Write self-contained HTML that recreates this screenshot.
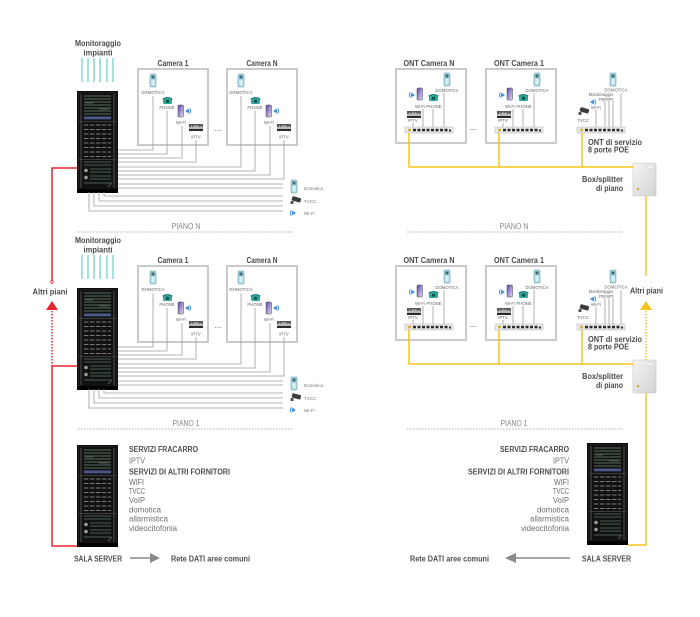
<!DOCTYPE html>
<html><head><meta charset="utf-8"><style>
html,body{margin:0;padding:0;background:#fff;}
svg{display:block;}
.tb{font-family:"Liberation Sans",sans-serif;font-weight:bold;font-size:8.5px;fill:#4a4a4a;}
.s{font-family:"Liberation Sans",sans-serif;font-size:4.3px;fill:#666;text-anchor:middle;}
.s2{font-family:"Liberation Sans",sans-serif;font-size:4.5px;fill:#777;}
.p{font-family:"Liberation Sans",sans-serif;font-size:8px;fill:#888;text-anchor:middle;}
.b{font-family:"Liberation Sans",sans-serif;font-size:8px;fill:#6e6e6e;}
.bb{font-family:"Liberation Sans",sans-serif;font-weight:bold;font-size:8px;fill:#4e4e4e;}
.dots{font-family:"Liberation Sans",sans-serif;font-size:8px;fill:#555;text-anchor:middle;}
</style></head><body>
<svg width="700" height="617" viewBox="0 0 700 617" xmlns="http://www.w3.org/2000/svg">
<defs>
<linearGradient id="pg" x1="0" y1="0" x2="1" y2="1"><stop offset="0" stop-color="#5e44a8"/><stop offset="1" stop-color="#e4dbf6"/></linearGradient>
<linearGradient id="bgr" x1="0" y1="0" x2="1" y2="1"><stop offset="0" stop-color="#f4f4f4"/><stop offset="1" stop-color="#d2d2d2"/></linearGradient>
<g id="rack">
<rect x="0" y="0" width="41" height="102" fill="#0c0c0c"/>
<rect x="1.5" y="1.5" width="38" height="97" fill="#121212" stroke="#2e2e2e" stroke-width="0.5"/>
<line x1="4" y1="3" x2="4" y2="97" stroke="#6a6a6a" stroke-width="0.7"/>
<line x1="37" y1="3" x2="37" y2="97" stroke="#6a6a6a" stroke-width="0.7"/>
<g stroke="#3c4f42" stroke-width="1.6">
<line x1="7" y1="5" x2="34" y2="5"/><line x1="7" y1="8" x2="34" y2="8"/><line x1="7" y1="11" x2="34" y2="11"/><line x1="7" y1="14" x2="34" y2="14"/><line x1="7" y1="17" x2="34" y2="17"/><line x1="7" y1="20" x2="34" y2="20"/><line x1="7" y1="23" x2="34" y2="23"/>
</g>
<g stroke="#8f8f8f" stroke-width="0.5"><line x1="22" y1="18" x2="32" y2="18"/><line x1="8" y1="12" x2="16" y2="12"/></g>
<rect x="7" y="25.5" width="27" height="2.8" fill="#4a5888"/>
<line x1="2" y1="30.5" x2="39" y2="30.5" stroke="#4a4a4a" stroke-width="0.8"/>
<g stroke="#9a9a9a" stroke-width="0.8" stroke-dasharray="4.5 1.5">
<line x1="7" y1="34" x2="34" y2="34"/><line x1="7" y1="38.5" x2="34" y2="38.5"/><line x1="7" y1="43" x2="34" y2="43"/><line x1="7" y1="47.5" x2="34" y2="47.5"/><line x1="7" y1="52" x2="34" y2="52"/><line x1="7" y1="56.5" x2="34" y2="56.5"/><line x1="7" y1="61" x2="34" y2="61"/><line x1="7" y1="65.5" x2="34" y2="65.5"/>
</g>
<line x1="2" y1="68.5" x2="39" y2="68.5" stroke="#4a4a4a" stroke-width="0.8"/>
<g stroke="#3c4f42" stroke-width="1.3">
<line x1="7" y1="71" x2="34" y2="71"/><line x1="7" y1="74" x2="34" y2="74"/>
<line x1="13" y1="78" x2="34" y2="78"/><line x1="13" y1="81" x2="34" y2="81"/><line x1="13" y1="85" x2="34" y2="85"/><line x1="13" y1="88" x2="34" y2="88"/><line x1="7" y1="92" x2="34" y2="92"/>
</g>
<circle cx="9" cy="79.5" r="1.8" fill="#9a9a9a"/>
<circle cx="9" cy="86.5" r="1.8" fill="#9a9a9a"/>
<line x1="31" y1="96" x2="35" y2="92" stroke="#777" stroke-width="0.6"/>
<rect x="0" y="98" width="41" height="4" fill="#000"/>
</g>
<g id="dom"><rect x="0" y="0" width="6" height="13" rx="1" fill="#a9d8e4" stroke="#5f8f9a" stroke-width="0.5"/><rect x="1.5" y="1.5" width="3" height="3" fill="#3b6a74"/><rect x="1.3" y="6" width="3.4" height="5.5" fill="#d6f0f5"/></g>
<g id="phone"><rect x="1" y="2.5" width="9" height="5.5" rx="1.5" fill="#2ea79d"/><path d="M0 3 Q5.5 -1 11 3 L9.5 3.6 Q5.5 1 1.5 3.6Z" fill="#1d8178"/><circle cx="5.5" cy="5.2" r="1.6" fill="#0f4f49"/></g>
<g id="mob"><rect x="0" y="0" width="5.5" height="12" rx="1" fill="url(#pg)" stroke="#444" stroke-width="0.5"/></g>
<g id="wf"><path d="M0 3 L3.5 0.8 A4 4 0 0 1 3.5 5.2Z" fill="#3d8fe0"/><path d="M4.6 0.2 A5 5 0 0 1 4.6 5.8" fill="none" stroke="#3d8fe0" stroke-width="0.9"/></g>
<g id="wfl"><path d="M6 3 L2.5 0.8 A4 4 0 0 0 2.5 5.2Z" fill="#3d8fe0"/><path d="M1.4 0.2 A5 5 0 0 0 1.4 5.8" fill="none" stroke="#3d8fe0" stroke-width="0.9"/></g>
<g id="tv"><rect x="0" y="0" width="14" height="7" fill="#5a5a5a"/><path d="M0 5 L0 3 L2 3 L2 1.5 L3 1.5 L3 3 L5 2 L6 0.5 L7 2.5 L9 1 L10 3 L12 2 L14 3.5 L14 5Z" fill="#b8b8b8"/><rect x="0" y="5" width="14" height="2" fill="#2a2a2a"/></g>
<g id="cam"><rect x="2" y="0" width="9" height="4.5" rx="1" fill="#3c3c3c" transform="rotate(15 6 2)"/><rect x="0.5" y="4" width="3" height="3" fill="#555"/></g>
<g id="sw"><rect x="0" y="0" width="48" height="6" fill="#e8e8e8" stroke="#b5b5b5" stroke-width="0.5"/>
<rect x="3" y="1.8" width="3" height="2.5" fill="#c9b24a"/>
<g fill="#2b2b2b"><rect x="8" y="1.8" width="3" height="2.5"/><rect x="12.5" y="1.8" width="3" height="2.5"/><rect x="17" y="1.8" width="3" height="2.5"/><rect x="21.5" y="1.8" width="3" height="2.5"/><rect x="26" y="1.8" width="3" height="2.5"/><rect x="30.5" y="1.8" width="3" height="2.5"/><rect x="35" y="1.8" width="3" height="2.5"/><rect x="39.5" y="1.8" width="3" height="2.5"/><rect x="44" y="2.5" width="2" height="2"/></g></g>
<g id="bx"><rect x="0" y="0" width="23" height="33" rx="1" fill="url(#bgr)" stroke="#c4c4c4" stroke-width="0.6"/><rect x="15" y="3" width="5" height="2" fill="#fff" stroke="#bbb" stroke-width="0.3"/><path d="M3.5 27 L5 24.5 L6.5 27Z" fill="#c9a100"/></g>
</defs>

<!-- ============ LEFT FLOOR N ============ -->
<g>
<text class="tb" x="98" y="46" text-anchor="middle" textLength="46" lengthAdjust="spacingAndGlyphs">Monitoraggio</text>
<text class="tb" x="98" y="55.5" text-anchor="middle" textLength="29" lengthAdjust="spacingAndGlyphs">impianti</text>
<g stroke="#72d2ca" stroke-width="1.3"><line x1="82" y1="58" x2="82" y2="82"/><line x1="88" y1="58" x2="88" y2="82"/><line x1="94" y1="58" x2="94" y2="82"/><line x1="100" y1="58" x2="100" y2="82"/><line x1="107" y1="58" x2="107" y2="82"/><line x1="113" y1="58" x2="113" y2="82"/></g>
<use href="#rack" x="77" y="91"/>
<rect x="138" y="69" width="70" height="76" fill="#fff" stroke="#cacaca" stroke-width="2"/>
<rect x="227" y="69" width="70" height="76" fill="#fff" stroke="#cacaca" stroke-width="2"/>
<text class="tb" x="173" y="66" text-anchor="middle" textLength="31" lengthAdjust="spacingAndGlyphs">Camera 1</text>
<text class="tb" x="262" y="66" text-anchor="middle" textLength="31" lengthAdjust="spacingAndGlyphs">Camera N</text>
<text class="dots" x="218" y="131">...</text>
<use href="#dom" x="150" y="74"/><text class="s" x="153" y="94">DOMOTICA</text>
<use href="#phone" x="162" y="96"/><text class="s" x="167" y="109">PHONE</text>
<use href="#mob" x="178" y="105"/><use href="#wf" x="185" y="108"/><text class="s" x="181" y="124">Wi-Fi</text>
<use href="#tv" x="189" y="124"/><text class="s" x="196" y="138.5">IPTV</text>
<use href="#dom" x="238" y="74"/><text class="s" x="241" y="94">DOMOTICA</text>
<use href="#phone" x="250" y="96"/><text class="s" x="255" y="109">PHONE</text>
<use href="#mob" x="266" y="105"/><use href="#wf" x="273" y="108"/><text class="s" x="269" y="124">Wi-Fi</text>
<use href="#tv" x="277" y="124"/><text class="s" x="284" y="138.5">IPTV</text>
<g fill="none" stroke="#9c9c9c" stroke-width="0.8">
<polyline points="118,150 153,150 153,96"/><polyline points="118,154 167,154 167,111"/><polyline points="118,158 182,158 182,126"/><polyline points="118,162 196,162 196,140"/>
<polyline points="118,167 241,167 241,96"/><polyline points="118,171 255,171 255,111"/><polyline points="118,175 270,175 270,126"/><polyline points="118,179 284,179 284,140"/>
<polyline points="118,184 283,184"/><polyline points="118,188 283,188"/>
<polyline points="104,192 104,196 283,196"/><polyline points="99,192 99,201 283,201"/><polyline points="94,192 94,206 283,206"/><polyline points="89,192 89,211 283,211"/>
</g>
<use href="#dom" x="291" y="180"/><text class="s2" x="304" y="190">Domotica</text>
<use href="#cam" x="290" y="197"/><text class="s2" x="304" y="203">TVCC</text>
<use href="#wfl" x="290" y="210"/><text class="s2" x="304" y="215">Wi-Fi</text>
<text class="p" x="186" y="229" textLength="29" lengthAdjust="spacingAndGlyphs">PIANO N</text>
<line x1="78" y1="232" x2="293" y2="232" stroke="#999" stroke-width="0.8" stroke-dasharray="1.5 1.5"/>
</g>

<!-- ============ LEFT FLOOR 1 ============ -->
<g transform="translate(0,197)">
<text class="tb" x="98" y="46" text-anchor="middle" textLength="46" lengthAdjust="spacingAndGlyphs">Monitoraggio</text>
<text class="tb" x="98" y="55.5" text-anchor="middle" textLength="29" lengthAdjust="spacingAndGlyphs">impianti</text>
<g stroke="#72d2ca" stroke-width="1.3"><line x1="82" y1="58" x2="82" y2="82"/><line x1="88" y1="58" x2="88" y2="82"/><line x1="94" y1="58" x2="94" y2="82"/><line x1="100" y1="58" x2="100" y2="82"/><line x1="107" y1="58" x2="107" y2="82"/><line x1="113" y1="58" x2="113" y2="82"/></g>
<use href="#rack" x="77" y="91"/>
<rect x="138" y="69" width="70" height="76" fill="#fff" stroke="#cacaca" stroke-width="2"/>
<rect x="227" y="69" width="70" height="76" fill="#fff" stroke="#cacaca" stroke-width="2"/>
<text class="tb" x="173" y="66" text-anchor="middle" textLength="31" lengthAdjust="spacingAndGlyphs">Camera 1</text>
<text class="tb" x="262" y="66" text-anchor="middle" textLength="31" lengthAdjust="spacingAndGlyphs">Camera N</text>
<text class="dots" x="218" y="131">...</text>
<use href="#dom" x="150" y="74"/><text class="s" x="153" y="94">DOMOTICA</text>
<use href="#phone" x="162" y="96"/><text class="s" x="167" y="109">PHONE</text>
<use href="#mob" x="178" y="105"/><use href="#wf" x="185" y="108"/><text class="s" x="181" y="124">Wi-Fi</text>
<use href="#tv" x="189" y="124"/><text class="s" x="196" y="138.5">IPTV</text>
<use href="#dom" x="238" y="74"/><text class="s" x="241" y="94">DOMOTICA</text>
<use href="#phone" x="250" y="96"/><text class="s" x="255" y="109">PHONE</text>
<use href="#mob" x="266" y="105"/><use href="#wf" x="273" y="108"/><text class="s" x="269" y="124">Wi-Fi</text>
<use href="#tv" x="277" y="124"/><text class="s" x="284" y="138.5">IPTV</text>
<g fill="none" stroke="#9c9c9c" stroke-width="0.8">
<polyline points="118,150 153,150 153,96"/><polyline points="118,154 167,154 167,111"/><polyline points="118,158 182,158 182,126"/><polyline points="118,162 196,162 196,140"/>
<polyline points="118,167 241,167 241,96"/><polyline points="118,171 255,171 255,111"/><polyline points="118,175 270,175 270,126"/><polyline points="118,179 284,179 284,140"/>
<polyline points="118,184 283,184"/><polyline points="118,188 283,188"/>
<polyline points="104,192 104,196 283,196"/><polyline points="99,192 99,201 283,201"/><polyline points="94,192 94,206 283,206"/><polyline points="89,192 89,211 283,211"/>
</g>
<use href="#dom" x="291" y="180"/><text class="s2" x="304" y="190">Domotica</text>
<use href="#cam" x="290" y="197"/><text class="s2" x="304" y="203">TVCC</text>
<use href="#wfl" x="290" y="210"/><text class="s2" x="304" y="215">Wi-Fi</text>
<text class="p" x="186" y="229" textLength="27" lengthAdjust="spacingAndGlyphs">PIANO 1</text>
<line x1="78" y1="232" x2="293" y2="232" stroke="#999" stroke-width="0.8" stroke-dasharray="1.5 1.5"/>
</g>

<!-- ============ RIGHT FLOOR N ============ -->
<g>
<rect x="396" y="69" width="70" height="74" fill="#fff" stroke="#cacaca" stroke-width="2"/>
<rect x="486" y="69" width="70" height="74" fill="#fff" stroke="#cacaca" stroke-width="2"/>
<text class="tb" x="429" y="66" text-anchor="middle" textLength="51" lengthAdjust="spacingAndGlyphs">ONT Camera N</text>
<text class="tb" x="519" y="66" text-anchor="middle" textLength="50" lengthAdjust="spacingAndGlyphs">ONT Camera 1</text>
<text class="dots" x="473" y="130">...</text>
<g fill="none" stroke="#9c9c9c" stroke-width="0.8">
<line x1="444" y1="93" x2="444" y2="127"/><line x1="433" y1="109" x2="433" y2="127"/><line x1="423" y1="109" x2="423" y2="127"/><line x1="413" y1="123" x2="413" y2="127"/>
<line x1="534" y1="93" x2="534" y2="127"/><line x1="523" y1="109" x2="523" y2="127"/><line x1="513" y1="109" x2="513" y2="127"/><line x1="503" y1="123" x2="503" y2="127"/>
<line x1="596" y1="110" x2="596" y2="128"/><line x1="605" y1="101" x2="605" y2="128"/><line x1="609" y1="101" x2="609" y2="128"/><line x1="613" y1="101" x2="613" y2="128"/><line x1="621" y1="93" x2="621" y2="128"/>
</g>
<use href="#dom" x="444" y="73"/><text class="s" x="447" y="92">DOMOTICA</text>
<use href="#wfl" x="409" y="92"/><use href="#mob" x="417" y="88"/><text class="s" x="420" y="108">Wi-Fi</text>
<use href="#phone" x="428" y="93"/><text class="s" x="434" y="108">PHONE</text>
<use href="#tv" x="407" y="111"/><text class="s" x="413" y="122">IPTV</text>
<use href="#sw" x="405" y="127"/>
<use href="#dom" x="534" y="73"/><text class="s" x="537" y="92">DOMOTICA</text>
<use href="#wfl" x="499" y="92"/><use href="#mob" x="507" y="88"/><text class="s" x="510" y="108">Wi-Fi</text>
<use href="#phone" x="518" y="93"/><text class="s" x="524" y="108">PHONE</text>
<use href="#tv" x="497" y="111"/><text class="s" x="503" y="122">IPTV</text>
<use href="#sw" x="495" y="127"/>
<use href="#dom" x="610" y="73"/><text class="s" x="616" y="91.5">DOMOTICA</text>
<text class="s" x="601" y="96">Monitoraggio</text><text class="s" x="606" y="100.5">impianti</text>
<use href="#wf" x="590" y="99"/><text class="s" x="596" y="109">Wi-Fi</text>
<use href="#cam" x="578" y="108"/><text class="s" x="583" y="122">TVCC</text>
<use href="#sw" x="577" y="127"/>
<text class="tb" x="588" y="145" textLength="54" lengthAdjust="spacingAndGlyphs">ONT di servizio</text>
<text class="tb" x="588" y="152.5" textLength="41" lengthAdjust="spacingAndGlyphs">8 porte POE</text>
<use href="#bx" x="633" y="163"/>
<text class="tb" x="623" y="182" text-anchor="end" textLength="41" lengthAdjust="spacingAndGlyphs">Box/splitter</text>
<text class="tb" x="623" y="191" text-anchor="end" textLength="27" lengthAdjust="spacingAndGlyphs">di piano</text>
<text class="p" x="514" y="229" textLength="29" lengthAdjust="spacingAndGlyphs">PIANO N</text>
<line x1="407" y1="232" x2="622" y2="232" stroke="#999" stroke-width="0.8" stroke-dasharray="1.5 1.5"/>
</g>

<!-- ============ RIGHT FLOOR 1 ============ -->
<g transform="translate(0,197)">
<rect x="396" y="69" width="70" height="74" fill="#fff" stroke="#cacaca" stroke-width="2"/>
<rect x="486" y="69" width="70" height="74" fill="#fff" stroke="#cacaca" stroke-width="2"/>
<text class="tb" x="429" y="66" text-anchor="middle" textLength="51" lengthAdjust="spacingAndGlyphs">ONT Camera N</text>
<text class="tb" x="519" y="66" text-anchor="middle" textLength="50" lengthAdjust="spacingAndGlyphs">ONT Camera 1</text>
<text class="dots" x="473" y="130">...</text>
<g fill="none" stroke="#9c9c9c" stroke-width="0.8">
<line x1="444" y1="93" x2="444" y2="127"/><line x1="433" y1="109" x2="433" y2="127"/><line x1="423" y1="109" x2="423" y2="127"/><line x1="413" y1="123" x2="413" y2="127"/>
<line x1="534" y1="93" x2="534" y2="127"/><line x1="523" y1="109" x2="523" y2="127"/><line x1="513" y1="109" x2="513" y2="127"/><line x1="503" y1="123" x2="503" y2="127"/>
<line x1="596" y1="110" x2="596" y2="128"/><line x1="605" y1="101" x2="605" y2="128"/><line x1="609" y1="101" x2="609" y2="128"/><line x1="613" y1="101" x2="613" y2="128"/><line x1="621" y1="93" x2="621" y2="128"/>
</g>
<use href="#dom" x="444" y="73"/><text class="s" x="447" y="92">DOMOTICA</text>
<use href="#wfl" x="409" y="92"/><use href="#mob" x="417" y="88"/><text class="s" x="420" y="108">Wi-Fi</text>
<use href="#phone" x="428" y="93"/><text class="s" x="434" y="108">PHONE</text>
<use href="#tv" x="407" y="111"/><text class="s" x="413" y="122">IPTV</text>
<use href="#sw" x="405" y="127"/>
<use href="#dom" x="534" y="73"/><text class="s" x="537" y="92">DOMOTICA</text>
<use href="#wfl" x="499" y="92"/><use href="#mob" x="507" y="88"/><text class="s" x="510" y="108">Wi-Fi</text>
<use href="#phone" x="518" y="93"/><text class="s" x="524" y="108">PHONE</text>
<use href="#tv" x="497" y="111"/><text class="s" x="503" y="122">IPTV</text>
<use href="#sw" x="495" y="127"/>
<use href="#dom" x="610" y="73"/><text class="s" x="616" y="91.5">DOMOTICA</text>
<text class="s" x="601" y="96">Monitoraggio</text><text class="s" x="606" y="100.5">impianti</text>
<use href="#wf" x="590" y="99"/><text class="s" x="596" y="109">Wi-Fi</text>
<use href="#cam" x="578" y="108"/><text class="s" x="583" y="122">TVCC</text>
<use href="#sw" x="577" y="127"/>
<text class="tb" x="588" y="145" textLength="54" lengthAdjust="spacingAndGlyphs">ONT di servizio</text>
<text class="tb" x="588" y="152.5" textLength="41" lengthAdjust="spacingAndGlyphs">8 porte POE</text>
<use href="#bx" x="633" y="163"/>
<text class="tb" x="623" y="182" text-anchor="end" textLength="41" lengthAdjust="spacingAndGlyphs">Box/splitter</text>
<text class="tb" x="623" y="191" text-anchor="end" textLength="27" lengthAdjust="spacingAndGlyphs">di piano</text>
<text class="p" x="514" y="229" textLength="27" lengthAdjust="spacingAndGlyphs">PIANO 1</text>
<line x1="407" y1="232" x2="622" y2="232" stroke="#999" stroke-width="0.8" stroke-dasharray="1.5 1.5"/>
</g>

<!-- ============ RED RISER ============ -->
<g stroke="#e4262c" stroke-width="1.5" fill="none">
<polyline points="77,168 52,168 52,282"/>
<line x1="52" y1="311" x2="52" y2="366" stroke-dasharray="1.5 1.5"/>
<polyline points="77,366 52,366 52,546 77,546"/>
</g>
<circle cx="52" cy="282" r="1.3" fill="#fff" stroke="#e4262c" stroke-width="0.8"/>
<polygon points="46,310 58,310 52,301" fill="#e4262c"/>
<text class="tb" x="50" y="294.5" text-anchor="middle" textLength="35" lengthAdjust="spacingAndGlyphs">Altri piani</text>

<!-- ============ YELLOW FIBER ============ -->
<g stroke="#f5c518" stroke-width="1.5" fill="none">
<polyline points="409,133 409,167 633,167"/>
<line x1="499" y1="133" x2="499" y2="167"/>
<line x1="582" y1="133" x2="582" y2="167"/>
<line x1="646" y1="196" x2="646" y2="276"/>
<line x1="646" y1="311" x2="646" y2="360" stroke-dasharray="1.5 1.5"/>
<polyline points="409,330 409,364 633,364"/>
<line x1="499" y1="330" x2="499" y2="364"/>
<line x1="582" y1="330" x2="582" y2="364"/>
<polyline points="646,393 646,545 628,545"/>
</g>
<polygon points="640,310 652,310 646,301" fill="#f5c518"/>
<text class="tb" x="630" y="293.5" textLength="33" lengthAdjust="spacingAndGlyphs">Altri piani</text>

<!-- ============ SERVER ROOMS ============ -->
<use href="#rack" x="77" y="445"/>
<text class="bb" x="129" y="452" textLength="69" lengthAdjust="spacingAndGlyphs">SERVIZI FRACARRO</text>
<text class="b" x="129" y="463.5" textLength="16" lengthAdjust="spacingAndGlyphs">IPTV</text>
<text class="bb" x="129" y="474.5" textLength="101" lengthAdjust="spacingAndGlyphs">SERVIZI DI ALTRI FORNITORI</text>
<text class="b" x="129" y="485" textLength="15" lengthAdjust="spacingAndGlyphs">WIFI</text>
<text class="b" x="129" y="494" textLength="16" lengthAdjust="spacingAndGlyphs">TVCC</text>
<text class="b" x="129" y="503" textLength="16" lengthAdjust="spacingAndGlyphs">VoIP</text>
<text class="b" x="129" y="512.5" textLength="32" lengthAdjust="spacingAndGlyphs">domotica</text>
<text class="b" x="129" y="521.5" textLength="39" lengthAdjust="spacingAndGlyphs">allarmistica</text>
<text class="b" x="129" y="531" textLength="48" lengthAdjust="spacingAndGlyphs">videocitofonia</text>
<text class="bb" x="74" y="561.5" textLength="48" lengthAdjust="spacingAndGlyphs">SALA SERVER</text>
<line x1="130" y1="558" x2="151" y2="558" stroke="#8a8a8a" stroke-width="1.5"/>
<polygon points="150,553 160,558 150,563" fill="#8a8a8a"/>
<text class="bb" x="171" y="561.5" textLength="79" lengthAdjust="spacingAndGlyphs">Rete DATI aree comuni</text>

<use href="#rack" x="587" y="443"/>
<g text-anchor="end">
<text class="bb" x="569" y="452" textLength="69" lengthAdjust="spacingAndGlyphs">SERVIZI FRACARRO</text>
<text class="b" x="569" y="463.5" textLength="16" lengthAdjust="spacingAndGlyphs">IPTV</text>
<text class="bb" x="569" y="474.5" textLength="101" lengthAdjust="spacingAndGlyphs">SERVIZI DI ALTRI FORNITORI</text>
<text class="b" x="569" y="485" textLength="15" lengthAdjust="spacingAndGlyphs">WIFI</text>
<text class="b" x="569" y="494" textLength="16" lengthAdjust="spacingAndGlyphs">TVCC</text>
<text class="b" x="569" y="503" textLength="16" lengthAdjust="spacingAndGlyphs">VoIP</text>
<text class="b" x="569" y="512.5" textLength="32" lengthAdjust="spacingAndGlyphs">domotica</text>
<text class="b" x="569" y="521.5" textLength="39" lengthAdjust="spacingAndGlyphs">allarmistica</text>
<text class="b" x="569" y="531" textLength="48" lengthAdjust="spacingAndGlyphs">videocitofonia</text>
</g>
<text class="bb" x="582" y="561.5" textLength="49" lengthAdjust="spacingAndGlyphs">SALA SERVER</text>
<line x1="514" y1="558" x2="570" y2="558" stroke="#8a8a8a" stroke-width="1.5"/>
<polygon points="516,553 505,558 516,563" fill="#8a8a8a"/>
<text class="bb" x="410" y="561.5" textLength="79" lengthAdjust="spacingAndGlyphs">Rete DATI aree comuni</text>
</svg>
</body></html>
